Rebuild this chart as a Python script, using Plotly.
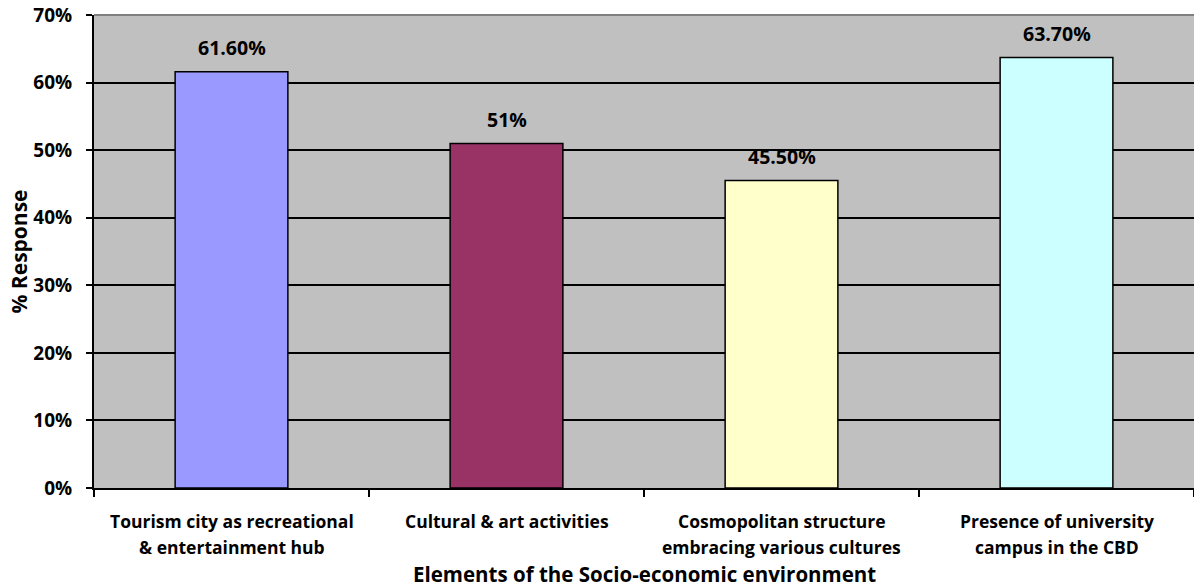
import plotly.graph_objects as go

categories = [
    "Tourism city as recreational<br>& entertainment hub",
    "Cultural & art activities",
    "Cosmopolitan structure<br>embracing various cultures",
    "Presence of university<br>campus in the CBD",
]
response = [0.616, 0.51, 0.455, 0.637]
value_labels = ["61.60%", "51%", "45.50%", "63.70%"]
bar_colors = ["#9999FF", "#993366", "#FFFFCC", "#CCFFFF"]
y_ticks = [0, 0.1, 0.2, 0.3, 0.4, 0.5, 0.6, 0.7]

font = "'Open Sans', Lato, sans-serif"

fig = go.Figure()
fig.add_trace(go.Bar(
    x=categories, y=response,
    marker=dict(color=bar_colors, line=dict(color="black", width=1.5)),
    width=0.41,
))

# value labels above bars
for c, v, t in zip(categories, response, value_labels):
    fig.add_annotation(x=c, y=v, text="<b>%s</b>" % t, showarrow=False,
                       yanchor="middle", yshift=24,
                       font=dict(size=19.5, color="black", family=font))

# category labels, one annotation per line so the spacing matches
for c in categories:
    for i, line in enumerate(c.split("<br>")):
        fig.add_annotation(x=c, xref="x", y=0, yref="paper", text="<b>%s</b>" % line,
                           showarrow=False, yanchor="middle", yshift=-33 - 26 * i,
                           font=dict(size=17.5, color="black", family=font))

fig.add_annotation(x=0.5, xref="paper", y=0, yref="paper",
                   text="<b>Elements of the Socio-economic environment</b>",
                   showarrow=False, yanchor="middle", yshift=-86,
                   font=dict(size=20.5, color="black", family=font))

fig.add_annotation(x=0, xref="paper", y=0.5, yref="paper", xshift=-76,
                   text="<b>% Response</b>", textangle=-90, showarrow=False,
                   xanchor="center", yanchor="middle",
                   font=dict(size=21, color="black", family=font))

fig.update_layout(
    width=1194, height=587,
    margin=dict(l=94, r=0, t=15, b=99),
    plot_bgcolor="#C0C0C0", paper_bgcolor="white",
    showlegend=False,
    font=dict(family=font, color="black"),
    xaxis=dict(
        tickson="boundaries", ticks="outside", ticklen=7, tickcolor="black", tickwidth=1.5,
        showline=True, linecolor="black", linewidth=2,
        showticklabels=False, showgrid=False, automargin=False,
    ),
    yaxis=dict(
        range=[0, 0.7], tickvals=y_ticks,
        ticktext=["<b>%d%%</b>" % round(v * 100) for v in y_ticks],
        ticks="outside", ticklen=6, tickcolor="black", tickwidth=1.5,
        ticklabelstandoff=10,
        showline=True, linecolor="black", linewidth=2,
        gridcolor="black", gridwidth=1.5,
        tickfont=dict(size=19, family=font),
        zeroline=False, automargin=False,
    ),
)
fig.add_shape(type="line", xref="paper", yref="paper", x0=0, x1=1, y0=1, y1=1,
              line=dict(color="#808080", width=2))

# drop the default 8px body margin so the figure fills the window
fig.write_html("out.html", config={"displayModeBar": False},
               post_script="document.body.style.margin='0';")
